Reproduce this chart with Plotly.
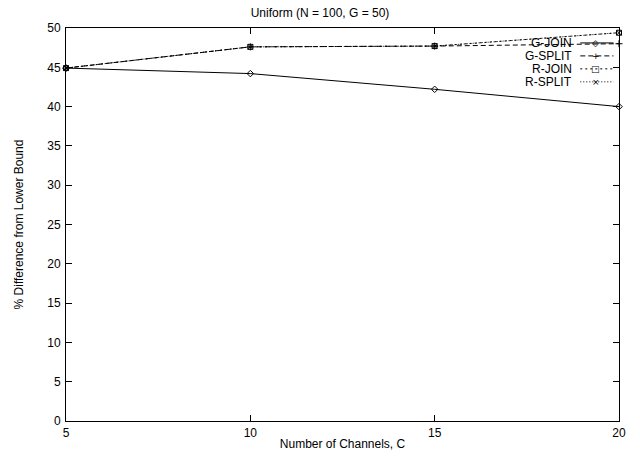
import plotly.graph_objects as go

channels = [5, 10, 15, 20]
g_join = [44.9, 44.2, 42.2, 40.0]
g_split = [44.9, 47.6, 47.7, 48.0]
r_join = [44.9, 47.6, 47.7, 49.4]
r_split = [44.9, 47.6, 47.7, 49.4]

series_names = ["G-JOIN", "G-SPLIT", "R-JOIN", "R-SPLIT"]
series_vals = [g_join, g_split, r_join, r_split]
dashes = ["solid", "5px,3px", "2px,3px", "1px,2px"]
symbols = ["diamond-open", "cross-thin-open", "square-open", "x-thin-open"]
glyphs = ["◇", "+", "□", "×"]

font = "Liberation Sans, Arial, sans-serif"
fig = go.Figure()
for name, vals, d, s in zip(series_names, series_vals, dashes, symbols):
    fig.add_trace(go.Scatter(
        x=channels, y=vals, name=name, mode="lines+markers",
        line=dict(color="black", width=1, dash=d),
        marker=dict(symbol=s, size=5, color="black", line=dict(color="black", width=1)),
        showlegend=False, cliponaxis=False,
    ))

# custom gnuplot-style legend (text then sample)
for i, (name, d, g) in enumerate(zip(series_names, dashes, glyphs)):
    yy = 0.962 - i * 0.033
    fig.add_annotation(xref="paper", yref="paper", x=0.917, y=yy, text=name,
                       showarrow=False, xanchor="right", yanchor="middle", borderpad=0,
                       font=dict(family=font, size=12, color="black"))
    fig.add_shape(type="line", xref="paper", yref="paper", x0=0.93, x1=0.99,
                  y0=yy, y1=yy, line=dict(color="black", width=1, dash=d))
    fig.add_annotation(xref="paper", yref="paper", x=0.958, y=yy, text=g,
                       showarrow=False, xanchor="center", yanchor="middle", borderpad=0,
                       font=dict(family="DejaVu Sans", size=9, color="black"))

axis_common = dict(showgrid=False, zeroline=False, showline=True, linecolor="black",
                   linewidth=1, mirror="ticks", ticks="inside", ticklen=6, automargin=False,
                   tickcolor="black", tickfont=dict(family=font, size=12, color="black"))
fig.update_layout(
    width=640, height=456,
    margin=dict(l=66, r=21, t=28, b=35),
    paper_bgcolor="white", plot_bgcolor="white",
    title=dict(text="Uniform (N = 100, G = 50)", x=0.5, xanchor="center", y=0.973,
               yanchor="middle", font=dict(family=font, size=12, color="black")),
    xaxis=dict(range=[5, 20], tickvals=[5, 10, 15, 20], ticklabelstandoff=1,
               title=dict(text="Number of Channels, C", standoff=0,
                          font=dict(family=font, size=12, color="black")),
               **axis_common),
    yaxis=dict(range=[0, 50], tickvals=list(range(0, 51, 5)), ticklabelstandoff=2,
               title=dict(text="% Difference from Lower Bound", standoff=21,
                          font=dict(family=font, size=12, color="black")),
               **axis_common),
)
fig.write_html("out.html")
